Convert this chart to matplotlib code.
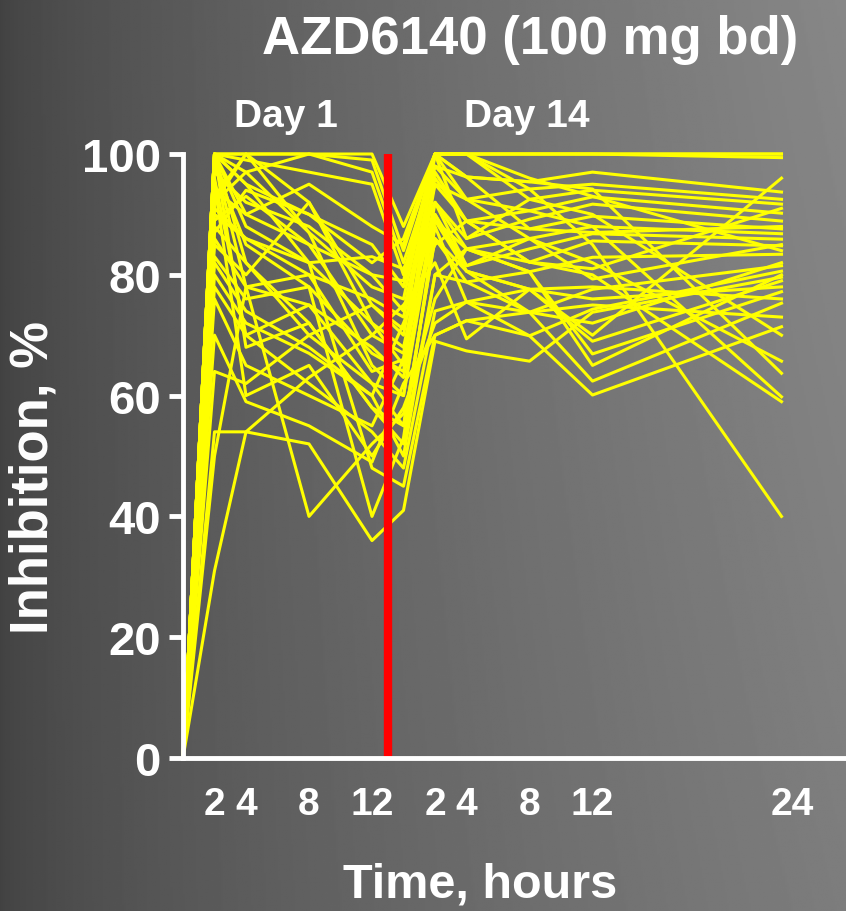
import matplotlib
matplotlib.use("Agg")
import matplotlib.pyplot as plt
import numpy as np

# time axis: day 14 hours are shifted by 14 so both days sit on one axis
day1_hours = [0, 2, 4, 8, 12]
day14_hours = [0, 2, 4, 8, 12, 24]
DAY14_SHIFT = 14
tick_hours = [2, 4, 8, 12, 2, 4, 8, 12, 24]

# % inhibition per subject, one list per time point
d1_0h = [0] * 36
d1_2h = [100, 100, 100, 88, 100, 97, 93, 100, 90, 85, 99, 92, 80, 100, 76, 95, 70, 54,
         31, 50, 100, 98, 87, 100, 92, 83, 96, 89, 64, 100, 82, 94, 86, 100, 78, 91]
d1_4h = [100, 100, 99, 82, 95, 92, 100, 90, 86, 80, 78, 97, 72, 68, 65, 60, 59, 54,
         54, 78, 88, 85, 94, 97, 100, 76, 70, 93, 62, 82, 74, 90, 78, 95, 70, 86]
d1_8h = [100, 100, 97, 70, 90, 88, 92, 85, 82, 92, 75, 87, 67, 72, 60, 65, 55, 52,
         63, 40, 82, 78, 90, 100, 87, 78, 75, 85, 70, 72, 68, 95, 80, 82, 62, 80]
d1_12h = [100, 99, 95, 62, 85, 80, 75, 70, 83, 72, 68, 65, 60, 58, 55, 50, 49, 36,
          70, 52, 48, 40, 82, 97, 78, 67, 62, 80, 75, 58, 60, 88, 76, 72, 54, 64]
d14_0h = [88, 84, 80, 55, 78, 74, 70, 67, 81, 65, 63, 60, 72, 52, 66, 58, 62, 41,
          75, 57, 45, 53, 86, 82, 76, 64, 60, 79, 71, 55, 50, 85, 73, 68, 48, 66]
d14_2h = [100, 100, 100, 86, 100, 98, 100, 96, 92, 100, 89, 90, 85, 80, 95, 72, 70, 69,
          82, 76, 70, 88, 100, 98, 100, 97, 92, 100, 90, 86, 80, 100, 95, 92, 74, 89]
d14_4h = [100, 100, 100, 80.6, 96.2, 92.5, 100, 88.9, 86, 96.2, 84.3, 81.5, 88.9, 78.8,
          92.5, 75.5, 72.4, 67.4, 69.4, 84.3, 72.4, 75.5, 100, 96.2, 92.5, 88.9, 81.5,
          86, 80.6, 78.8, 84.3, 100, 88.9, 84.3, 75.5, 80.6]
d14_8h = [100, 100, 100, 77.6, 95.4, 94.2, 92.5, 90.6, 89.2, 87.6, 86, 84.3, 82.1, 80.5,
          86, 73.8, 69.9, 65.7, 77.6, 80.5, 73.8, 69.9, 94.2, 95.4, 90.6, 82.1, 86,
          92.5, 77.6, 73.8, 80.5, 96, 87.6, 82.1, 77.6, 73.8]
d14_12h = [100, 100, 100, 70, 97, 95, 94, 92.9, 91.7, 89.7, 88, 86.8, 85.6, 82.9, 79.3,
           77.6, 74.3, 73.8, 69, 66.9, 62.4, 60.1, 85, 94.2, 88, 80, 82, 90, 76, 72,
           65, 93, 87, 81, 78, 75]
d14_24h = [100, 100, 99.4, 96, 93.7, 92.5, 91.7, 90.2, 88.9, 87.6, 86.8, 85.9, 84.8,
           83.4, 85, 81.5, 80.6, 79.6, 79, 77.2, 75.3, 71.4, 40, 63.7, 59.8, 59, 65.7,
           70, 78, 82, 80, 84, 88, 91, 76, 73]

day1 = [d1_0h, d1_2h, d1_4h, d1_8h, d1_12h]
day14 = [d14_0h, d14_2h, d14_4h, d14_8h, d14_12h, d14_24h]
x = np.array(day1_hours + [h + DAY14_SHIFT for h in day14_hours], dtype=float)
values = np.array(day1 + day14).T

W, H = 846, 912
fig = plt.figure(figsize=(W / 100, H / 100), dpi=100)

# grey gradient background (dark left, lighter right, a touch darker at the bottom right)
bg = fig.add_axes([0, 0, 1, 1], zorder=-10)
gx, gy = np.meshgrid(np.linspace(0, 1, 400), np.linspace(0, 1, 400))
grad = 0.26 + 0.27 * gx ** 0.7 - 0.04 * gx * gy
bg.imshow(grad, cmap="gray", vmin=0, vmax=1, aspect="auto", extent=[0, 1, 0, 1],
          origin="upper")
bg.axis("off")

ax = fig.add_axes([183 / W, (H - 759) / H, (W - 183) / W, (759 - 155) / H])
ax.patch.set_alpha(0)

for row in values:
    ax.plot(x, row, color="#ffff00", lw=2.2, clip_on=False, zorder=3)

ax.plot([13, 13], [0, 100], color="#ff0000", lw=6, solid_capstyle="butt", zorder=4)

ax.set_xlim(0, (W - 183) / 15.75)
ax.set_ylim(0, 100)

# no tick marks on x; the "24" label sits a little right of its point in the original
tick_pos = [h for h in day1_hours[1:]] + [h + DAY14_SHIFT for h in day14_hours[1:]]
tick_pos[-1] += 0.7
ax.set_xticks(tick_pos)
ax.set_xticklabels([str(h) for h in tick_hours])
ax.set_yticks([0, 20, 40, 60, 80, 100])

font = "Liberation Sans"
for lab in ax.get_xticklabels():
    lab.set_fontfamily(font)
    lab.set_fontweight("bold")
    lab.set_fontsize(28)
    lab.set_color("white")
for lab in ax.get_yticklabels():
    lab.set_fontfamily(font)
    lab.set_fontweight("bold")
    lab.set_fontsize(34)
    lab.set_color("white")

ax.tick_params(axis="x", length=0, pad=20)
ax.tick_params(axis="y", length=10, width=3.5, color="white", direction="out", pad=6)

for side in ["top", "right"]:
    ax.spines[side].set_visible(False)
for side in ["left", "bottom"]:
    ax.spines[side].set_color("white")
    ax.spines[side].set_linewidth(3.5)
    ax.spines[side].set_zorder(5)

fig.text(530 / W, 1 - 40 / H, "AZD6140 (100 mg bd)", color="white", fontsize=38,
         fontweight="bold", family=font, ha="center", va="center")
fig.text(286 / W, 1 - 117 / H, "Day 1", color="white", fontsize=28,
         fontweight="bold", family=font, ha="center", va="center")
fig.text(527 / W, 1 - 117 / H, "Day 14", color="white", fontsize=28,
         fontweight="bold", family=font, ha="center", va="center")
fig.text(33 / W, 1 - 478 / H, "Inhibition, %", color="white", fontsize=38,
         fontweight="bold", family=font, ha="center", va="center", rotation=90)
fig.text(480 / W, 1 - 885 / H, "Time, hours", color="white", fontsize=35,
         fontweight="bold", family=font, ha="center", va="center")

fig.savefig("out.png", dpi=100)
